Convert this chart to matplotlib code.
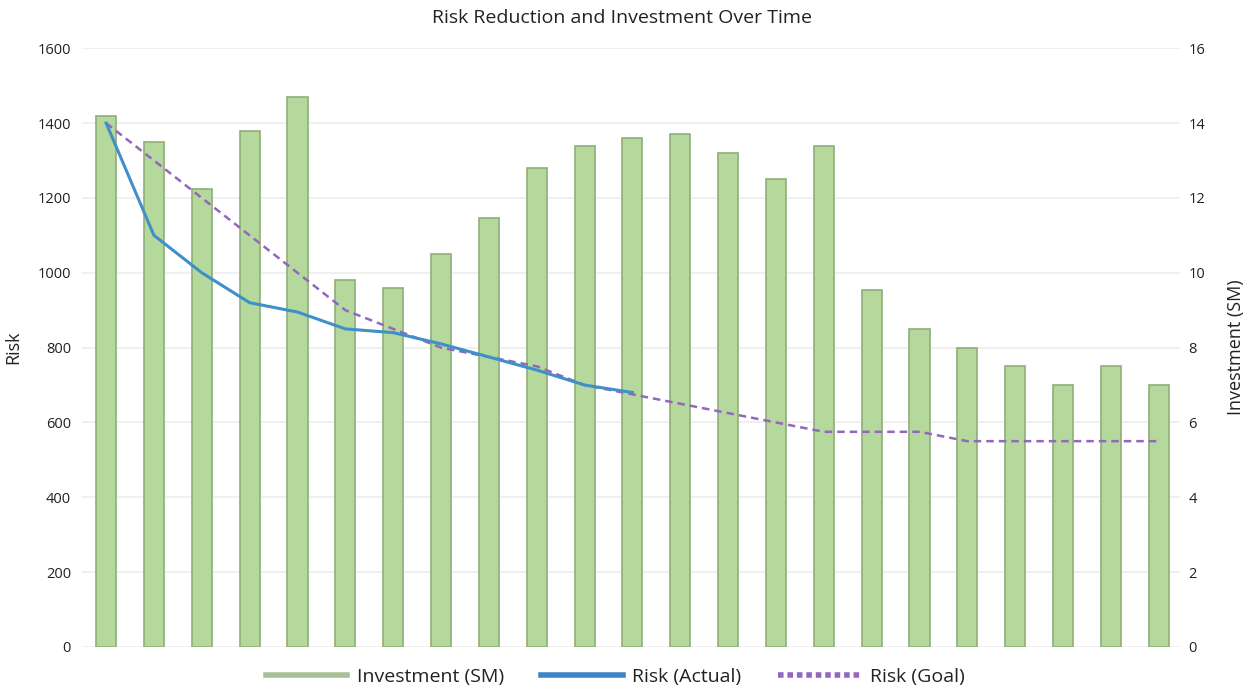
import numpy as np
import matplotlib.pyplot as plt
from matplotlib.lines import Line2D

# investment per period ($M)
investment = [14.2, 13.5, 12.25, 13.8, 14.7, 9.8, 9.6, 10.5, 11.45, 12.8, 13.4, 13.6,
              13.7, 13.2, 12.5, 13.4, 9.55, 8.5, 8.0, 7.5, 7.0, 7.5, 7.0]
# actual risk, only reported for the first 12 periods
risk_actual = [1400, 1100, 1000, 920, 895, 850, 840, 810, 775, 740, 700, 680]
# goal risk
risk_goal = [1400, 1300, 1200, 1100, 1000, 900, 850, 800, 775, 750, 700, 675,
             650, 625, 600, 575, 575, 575, 550, 550, 550, 550, 550]

left_ticks = [0, 200, 400, 600, 800, 1000, 1200, 1400, 1600]
right_ticks = [0, 2, 4, 6, 8, 10, 12, 14, 16]

plt.rcParams['font.family'] = ['Open Sans', 'DejaVu Sans']
TXT = '#222222'

fig = plt.figure(figsize=(12.45, 6.89), dpi=100)
ax = fig.add_axes([0.066, 0.061, 0.882, 0.869])
ax2 = ax.twinx()

x = np.arange(len(investment))

# bars on the right axis, drawn below the risk lines
ax2.bar(x, investment, width=0.42, color='#b5d89c', edgecolor='#8fae78', linewidth=1.2, zorder=2)
ax2.set_ylim(0, 16)
ax2.set_yticks(right_ticks)

ax.set_zorder(ax2.get_zorder() + 1)
ax.patch.set_visible(False)
ax.plot(np.arange(len(risk_goal)), risk_goal, color='#9467bd', linestyle=(0, (3, 2)),
        linewidth=1.8, zorder=3)
ax.plot(np.arange(len(risk_actual)), risk_actual, color='#3f8fc9', linewidth=2.2, zorder=4)
ax.set_ylim(0, 1600)
ax.set_yticks(left_ticks)
ax.set_xlim(-0.5, 22.45)
ax.set_xticks([])

# grid lines live on the lower axes so bars sit on top of them
for t in right_ticks:
    ax2.axhline(t, color='#eeeeee', linewidth=1.2, zorder=0)

for a in (ax, ax2):
    for s in a.spines.values():
        s.set_visible(False)
    a.tick_params(axis='y', length=0, labelsize=10.5, labelcolor=TXT)
ax.tick_params(axis='y', pad=8)
ax2.tick_params(axis='y', pad=6)

ax.set_ylabel('Risk', fontsize=13, color=TXT)
ax.yaxis.set_label_coords(-0.055, 0.5)
ax2.set_ylabel('Investment (SM)', fontsize=13, color=TXT)
ax2.yaxis.set_label_coords(1.043, 0.5)
fig.text(0.5, 0.974, 'Risk Reduction and Investment Over Time', fontsize=14, color=TXT,
         ha='center', va='center')

handles = [
    Line2D([], [], color='#a9bf98', linewidth=4),
    Line2D([], [], color='#3b85c6', linewidth=4),
    Line2D([], [], color='#9467bd', linewidth=4, linestyle=(0, (1, 0.7))),
]
labels = ['Investment (SM)', 'Risk (Actual)', 'Risk (Goal)']
fig.legend(handles, labels, loc='center', bbox_to_anchor=(0.494, 0.017), ncol=3,
           frameon=False, fontsize=14, handlelength=4.2, columnspacing=1.9,
           handletextpad=0.5, labelcolor=TXT)

fig.savefig('out.png', dpi=100)
